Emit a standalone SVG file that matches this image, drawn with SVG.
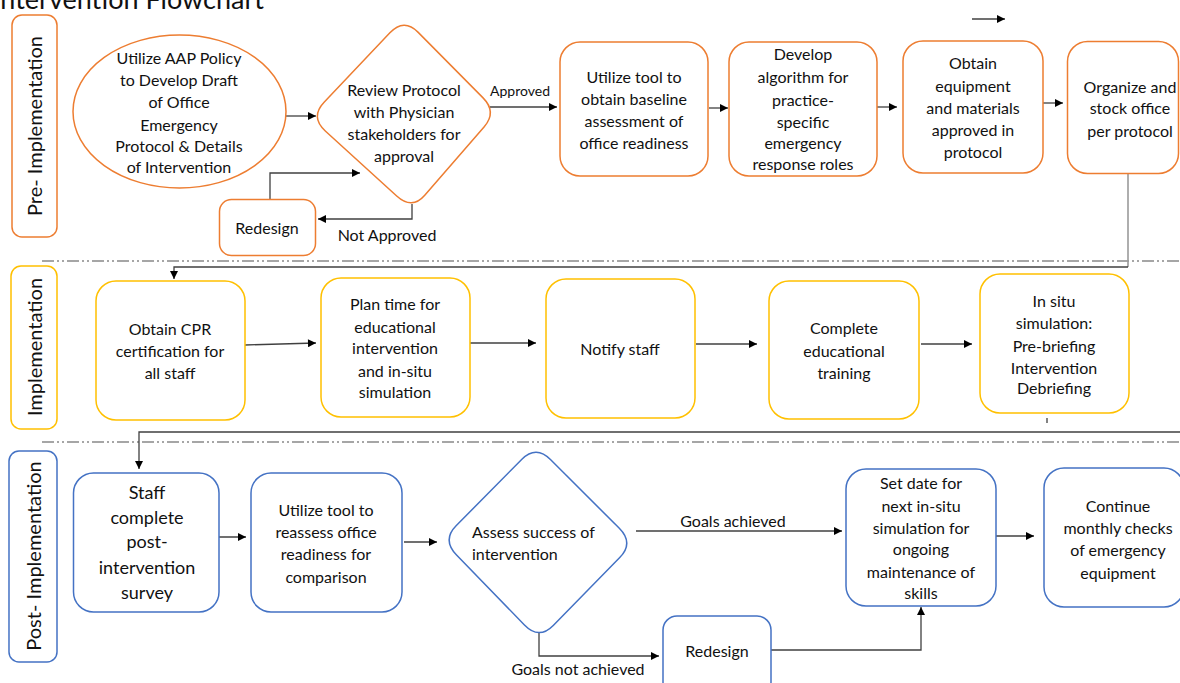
<svg xmlns="http://www.w3.org/2000/svg" width="1180" height="683" viewBox="0 0 1180 683">
  <defs>
    <marker id="ah" viewBox="0 0 10 10" refX="10" refY="5" markerWidth="9" markerHeight="8" markerUnits="userSpaceOnUse" orient="auto">
      <path d="M0,0 L10,5 L0,10 z" fill="#000"/>
    </marker>
    <style>
      text { font-family: Lato, "Open Sans", "Liberation Sans", sans-serif; fill: #111; }
      .t { font-size: 16px; text-anchor: middle; }
      .big { font-size: 18px; text-anchor: middle; }
      .lbl { font-size: 16px; text-anchor: middle; }
      .lane { font-size: 20px; text-anchor: middle; }
      .title { font-size: 27px; }
      .or { fill: #fff; stroke: #ED7D31; stroke-width: 1.5; }
      .ye { fill: #fff; stroke: #FFC000; stroke-width: 1.5; }
      .bl { fill: #fff; stroke: #4472C4; stroke-width: 1.5; }
      .sep { fill: none; stroke: #A6A6A6; stroke-width: 2; stroke-dasharray: 12 3 2 3 2 3; }
      .c { fill: none; stroke: #404040; stroke-width: 1.3; }
      .ca { fill: none; stroke: #404040; stroke-width: 1.3; marker-end: url(#ah); }
      .cg { fill: none; stroke: #9a9a9a; stroke-width: 1.6; }
    </style>
  </defs>

  <!-- heading, running off the top edge -->
  <text class="title" x="-7" y="9">Intervention Flowchart</text>

  <!-- phase separators -->
  <line class="sep" x1="42" y1="261" x2="1180" y2="261"/>
  <line class="sep" x1="42" y1="442" x2="1180" y2="442"/>

  <!-- phase labels -->
  <g id="lane-pre">
    <rect class="or" x="12" y="15" width="45" height="222" rx="10"/>
    <text class="lane" transform="translate(42,126) rotate(-90)">Pre- Implementation</text>
  </g>
  <g id="lane-impl">
    <rect class="ye" x="11" y="266" width="46" height="163" rx="10"/>
    <text class="lane" transform="translate(42,347) rotate(-90)">Implementation</text>
  </g>
  <g id="lane-post">
    <rect class="bl" x="9" y="451" width="48" height="211" rx="10"/>
    <text class="lane" transform="translate(41,556) rotate(-90)">Post- Implementation</text>
  </g>

  <!-- connectors -->
  <g id="connectors">
    <line class="ca" x1="284" y1="116" x2="316" y2="116"/>
    <line class="ca" x1="490" y1="107" x2="557" y2="107"/>
    <line class="ca" x1="709" y1="108" x2="728" y2="108"/>
    <line class="ca" x1="877" y1="107" x2="897" y2="107"/>
    <line class="ca" x1="1043" y1="103" x2="1063" y2="103"/>
    <path class="ca" d="M412,204 V219 H318"/>
    <path class="ca" d="M270,199 V173 H360"/>
    <line class="ca" x1="972" y1="19" x2="1005" y2="19"/>
    <path class="cg" d="M1128,174 V267"/>
    <path class="ca" d="M1128,267 H174 V279"/>

    <line class="ca" x1="245" y1="345" x2="316" y2="343"/>
    <line class="ca" x1="470" y1="343" x2="536" y2="343"/>
    <line class="ca" x1="696" y1="344" x2="757" y2="344"/>
    <line class="ca" x1="921" y1="344" x2="972" y2="344"/>
    <line class="c" x1="1047" y1="418" x2="1047" y2="423"/>
    <path class="ca" d="M1180,432 H139 V469"/>

    <line class="ca" x1="213" y1="537" x2="246" y2="537"/>
    <line class="ca" x1="404" y1="542" x2="437" y2="542"/>
    <line class="ca" x1="636" y1="531" x2="842" y2="531"/>
    <path class="ca" d="M539,633 V656 H659"/>
    <path class="ca" d="M771,650 H921 V607"/>
    <line class="ca" x1="990" y1="536" x2="1034" y2="536"/>

    <text class="lbl" style="font-size:14px" x="520" y="96">Approved</text>
    <text class="lbl" x="387" y="241">Not Approved</text>
    <text class="lbl" x="733" y="527">Goals achieved</text>
    <text class="lbl" x="578" y="675">Goals not achieved</text>
  </g>

  <!-- pre-implementation -->
  <g id="draft-protocol">
    <ellipse class="or" cx="179.5" cy="111.5" rx="106.5" ry="76.5"/>
    <text class="t" x="179" y="64">Utilize AAP Policy</text>
    <text class="t" x="179" y="86">to Develop Draft</text>
    <text class="t" x="179" y="108">of Office</text>
    <text class="t" x="179" y="131">Emergency</text>
    <text class="t" x="179" y="152">Protocol &amp; Details</text>
    <text class="t" x="179" y="173">of Intervention</text>
  </g>
  <g id="review-protocol">
    <path class="or" d="M417.95,32.1 L483.05,97.9 Q497,112 484.25,126.7 L424.75,195.3 Q412,210 396.7,196.05 L325.3,130.95 Q310,117 324.1,102.15 L389.9,32.85 Q404,18 417.95,32.1 Z"/>
    <text class="t" x="404" y="96">Review Protocol</text>
    <text class="t" x="404" y="118">with Physician</text>
    <text class="t" x="404" y="140">stakeholders for</text>
    <text class="t" x="404" y="162">approval</text>
  </g>
  <g id="redesign-pre">
    <rect class="or" x="219.5" y="199.5" width="96" height="56" rx="12"/>
    <text class="t" x="267" y="234">Redesign</text>
  </g>
  <g id="baseline-assessment">
    <rect class="or" x="560" y="42" width="148" height="134" rx="20"/>
    <text class="t" x="634" y="83">Utilize tool to</text>
    <text class="t" x="634" y="105">obtain baseline</text>
    <text class="t" x="634" y="127">assessment of</text>
    <text class="t" x="634" y="149">office readiness</text>
  </g>
  <g id="response-roles">
    <rect class="or" x="729" y="42" width="148" height="134" rx="20"/>
    <text class="t" x="803" y="60">Develop</text>
    <text class="t" x="803" y="83">algorithm for</text>
    <text class="t" x="803" y="106">practice-</text>
    <text class="t" x="803" y="128">specific</text>
    <text class="t" x="803" y="149">emergency</text>
    <text class="t" x="803" y="170">response roles</text>
  </g>
  <g id="obtain-equipment">
    <rect class="or" x="903" y="41" width="140" height="132" rx="20"/>
    <text class="t" x="973" y="69">Obtain</text>
    <text class="t" x="973" y="92">equipment</text>
    <text class="t" x="973" y="114">and materials</text>
    <text class="t" x="973" y="136">approved in</text>
    <text class="t" x="973" y="158">protocol</text>
  </g>
  <g id="stock-office">
    <rect class="or" x="1067.5" y="41.5" width="111" height="132" rx="20"/>
    <text class="t" x="1130" y="93">Organize and</text>
    <text class="t" x="1130" y="114">stock office</text>
    <text class="t" x="1130" y="137">per protocol</text>
  </g>

  <!-- implementation -->
  <g id="cpr-certification">
    <rect class="ye" x="96" y="281" width="149" height="139" rx="20"/>
    <text class="t" x="170" y="335">Obtain CPR</text>
    <text class="t" x="170" y="357">certification for</text>
    <text class="t" x="170" y="379">all staff</text>
  </g>
  <g id="plan-time">
    <rect class="ye" x="321" y="278" width="149" height="139" rx="20"/>
    <text class="t" x="395" y="310">Plan time for</text>
    <text class="t" x="395" y="333">educational</text>
    <text class="t" x="395" y="354">intervention</text>
    <text class="t" x="395" y="377">and in-situ</text>
    <text class="t" x="395" y="398">simulation</text>
  </g>
  <g id="notify-staff">
    <rect class="ye" x="546" y="279" width="149" height="139" rx="20"/>
    <text class="t" x="620" y="355">Notify staff</text>
  </g>
  <g id="educational-training">
    <rect class="ye" x="769" y="281" width="150" height="138" rx="20"/>
    <text class="t" x="844" y="334">Complete</text>
    <text class="t" x="844" y="357">educational</text>
    <text class="t" x="844" y="379">training</text>
  </g>
  <g id="in-situ-simulation">
    <rect class="ye" x="980" y="274" width="149" height="139" rx="20"/>
    <text class="t" x="1054" y="307">In situ</text>
    <text class="t" x="1054" y="329">simulation:</text>
    <text class="t" x="1054" y="352">Pre-briefing</text>
    <text class="t" x="1054" y="374">Intervention</text>
    <text class="t" x="1054" y="394">Debriefing</text>
  </g>

  <!-- post-implementation -->
  <g id="staff-survey">
    <rect class="bl" x="73.5" y="473" width="145.5" height="139" rx="20"/>
    <text class="big" x="147" y="499">Staff</text>
    <text class="big" x="147" y="524">complete</text>
    <text class="big" x="147" y="548">post-</text>
    <text class="big" x="147" y="574">intervention</text>
    <text class="big" x="147" y="599">survey</text>
  </g>
  <g id="reassess-readiness">
    <rect class="bl" x="251" y="473" width="151" height="139" rx="20"/>
    <text class="t" x="326" y="516">Utilize tool to</text>
    <text class="t" x="326" y="538">reassess office</text>
    <text class="t" x="326" y="560">readiness for</text>
    <text class="t" x="326" y="583">comparison</text>
  </g>
  <g id="assess-success">
    <path class="bl" d="M550.7,459.7 L619.3,528.3 Q634,543 619.75,557.55 L553.25,625.45 Q539,640 524.45,625 L456.55,555 Q442,540 456.1,525.75 L521.9,459.25 Q536,445 550.7,459.7 Z"/>
    <text class="t" style="text-anchor:start" x="472" y="538">Assess success of</text>
    <text class="t" style="text-anchor:start" x="472" y="560">intervention</text>
  </g>
  <g id="redesign-post">
    <rect class="bl" x="663" y="616" width="108" height="80" rx="14"/>
    <text class="t" x="717" y="657">Redesign</text>
  </g>
  <g id="next-simulation">
    <rect class="bl" x="846" y="469" width="150" height="137" rx="20"/>
    <text class="t" x="921" y="489">Set date for</text>
    <text class="t" x="921" y="512">next in-situ</text>
    <text class="t" x="921" y="534">simulation for</text>
    <text class="t" x="921" y="555">ongoing</text>
    <text class="t" x="921" y="578">maintenance of</text>
    <text class="t" x="921" y="599">skills</text>
  </g>
  <g id="monthly-checks">
    <rect class="bl" x="1044" y="468" width="140" height="139" rx="20"/>
    <text class="t" x="1118" y="512">Continue</text>
    <text class="t" x="1118" y="534">monthly checks</text>
    <text class="t" x="1118" y="556">of emergency</text>
    <text class="t" x="1118" y="579">equipment</text>
  </g>
</svg>
